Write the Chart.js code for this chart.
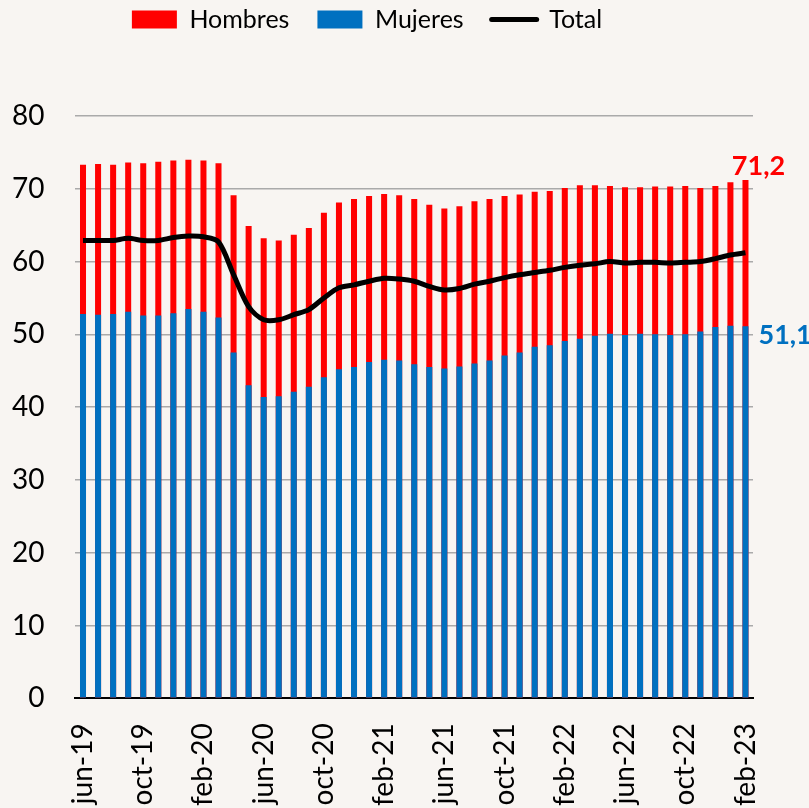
<!DOCTYPE html>
<html>
<head>
<meta charset="utf-8">
<script src="https://cdn.jsdelivr.net/npm/chart.js"></script>
<style>
  html, body { margin: 0; padding: 0; background: #f8f5f2; }
  #wrap { width: 809px; height: 808px; }
</style>
</head>
<body>
<div id="wrap"><canvas id="chart" width="809" height="808"></canvas></div>
<script>
// Meses (jun-19 .. feb-23)
const months = [
  'jun-19', 'jul-19', 'ago-19', 'sep-19', 'oct-19', 'nov-19', 'dic-19',
  'ene-20', 'feb-20', 'mar-20', 'abr-20', 'may-20', 'jun-20', 'jul-20', 'ago-20', 'sep-20', 'oct-20', 'nov-20', 'dic-20',
  'ene-21', 'feb-21', 'mar-21', 'abr-21', 'may-21', 'jun-21', 'jul-21', 'ago-21', 'sep-21', 'oct-21', 'nov-21', 'dic-21',
  'ene-22', 'feb-22', 'mar-22', 'abr-22', 'may-22', 'jun-22', 'jul-22', 'ago-22', 'sep-22', 'oct-22', 'nov-22', 'dic-22',
  'ene-23', 'feb-23'
];

const hombres = [
  73.3, 73.4, 73.3, 73.6, 73.5, 73.7, 73.9,
  74.0, 73.9, 73.5, 69.1, 64.9, 63.2, 62.9, 63.7, 64.6, 66.7, 68.1, 68.6,
  69.0, 69.3, 69.1, 68.6, 67.8, 67.3, 67.6, 68.3, 68.6, 69.0, 69.2, 69.6,
  69.7, 70.1, 70.5, 70.5, 70.4, 70.2, 70.2, 70.3, 70.3, 70.4, 70.1, 70.4,
  70.9, 71.2
];

const mujeres = [
  52.8, 52.7, 52.8, 53.1, 52.6, 52.6, 52.9,
  53.5, 53.1, 52.3, 47.5, 43.0, 41.4, 41.5, 42.1, 42.8, 44.1, 45.2, 45.5,
  46.2, 46.5, 46.4, 45.9, 45.5, 45.3, 45.6, 46.0, 46.4, 47.1, 47.5, 48.3,
  48.5, 49.1, 49.4, 49.8, 50.1, 49.9, 50.1, 50.0, 49.9, 50.0, 50.4, 51.0,
  51.2, 51.1
];

const total = [
  62.9, 62.9, 62.9, 63.2, 62.9, 62.9, 63.3,
  63.5, 63.4, 62.7, 58.2, 53.8, 52.0, 52.0, 52.7, 53.4, 55.0, 56.4, 56.8,
  57.3, 57.7, 57.6, 57.3, 56.6, 56.1, 56.3, 56.9, 57.3, 57.8, 58.2, 58.5,
  58.8, 59.2, 59.5, 59.7, 60.0, 59.8, 59.9, 59.9, 59.8, 59.9, 60.0, 60.4,
  60.9, 61.2
];

const yMin = 0;
const yMax = 80;
const yStep = 10;

const RED = '#ff0000';
const BLUE = '#0070c0';
const FONT = 'Lato, "Liberation Sans", sans-serif';

// label for the last value of each bar series
const lastValueLabels = {
    id: 'lastValueLabels',
    afterDatasetsDraw(chart) {
        const ctx = chart.ctx;
        ctx.save();
        ctx.font = 'bold 27px ' + FONT;
        ctx.textBaseline = 'middle';

        const h = chart.getDatasetMeta(0).data;
        const lastH = h[h.length - 1];
        ctx.fillStyle = RED;
        ctx.textAlign = 'center';
        ctx.fillText(hombres[hombres.length - 1].toFixed(1).replace('.', ','), lastH.x + 13, lastH.y - 14);

        const m = chart.getDatasetMeta(1).data;
        const lastM = m[m.length - 1];
        ctx.fillStyle = BLUE;
        ctx.textAlign = 'left';
        ctx.fillText(mujeres[mujeres.length - 1].toFixed(1).replace('.', ','), lastM.x + 13, lastM.y + 9);
        ctx.restore();
    }
};

// more room under the legend
const legendSpace = {
    id: 'legendSpace',
    beforeInit(chart) {
        const fit = chart.legend.fit;
        chart.legend.fit = function () {
            fit.bind(chart.legend)();
            this.height = 137;
        };
    }
};

const ctx = document.getElementById('chart').getContext('2d');

new Chart(ctx, {
    type: 'bar',
    data: {
        labels: months,
        datasets: [
            {
                label: 'Hombres',
                data: hombres,
                backgroundColor: RED,
                grouped: false,
                categoryPercentage: 1,
                barPercentage: 0.4,
                order: 2
            },
            {
                label: 'Mujeres',
                data: mujeres,
                backgroundColor: BLUE,
                grouped: false,
                categoryPercentage: 1,
                barPercentage: 0.4,
                order: 1
            },
            {
                type: 'line',
                label: 'Total',
                data: total,
                borderColor: '#000000',
                backgroundColor: '#000000',
                borderWidth: 5,
                pointRadius: 0,
                tension: 0.3,
                order: 0
            }
        ]
    },
    options: {
        responsive: false,
        animation: false,
        layout: {
            padding: { left: -19, right: 56, top: -21, bottom: -23 }
        },
        scales: {
            x: {
                offset: true,
                grid: { display: false, drawTicks: false },
                border: { display: true, color: '#000000', width: 2 },
                ticks: {
                    autoSkip: false,
                    maxRotation: 90,
                    minRotation: 90,
                    padding: 25,
                    color: '#000000',
                    font: { family: FONT, size: 28 },
                    callback: (value, i) => (i % 4 === 0 ? months[i] : '')
                }
            },
            y: {
                min: yMin,
                max: yMax,
                grid: {
                    drawTicks: false,
                    lineWidth: 1.5,
                    color: c => (c.tick.value === 0 ? 'rgba(0,0,0,0)' : '#aaaaaa')
                },
                border: { display: false },
                ticks: {
                    stepSize: yStep,
                    padding: 31,
                    color: '#000000',
                    font: { family: FONT, size: 28 }
                }
            }
        },
        plugins: {
            legend: {
                position: 'top',
                labels: {
                    usePointStyle: true,
                    pointStyleWidth: 45,
                    boxHeight: 18,
                    padding: 28,
                    color: '#000000',
                    font: { family: FONT, size: 25 },
                    generateLabels: chart => chart.data.datasets.map((ds, i) => ({
                        text: ds.label,
                        datasetIndex: i,
                        fillStyle: ds.type === 'line' ? '#000000' : ds.backgroundColor,
                        strokeStyle: '#000000',
                        lineWidth: ds.type === 'line' ? 5 : 0,
                        lineCap: 'round',
                        pointStyle: ds.type === 'line' ? 'line' : 'rect',
                        fontColor: '#000000',
                        hidden: false
                    }))
                }
            },
            tooltip: { enabled: false }
        }
    },
    plugins: [legendSpace, lastValueLabels]
});
</script>
</body>
</html>
